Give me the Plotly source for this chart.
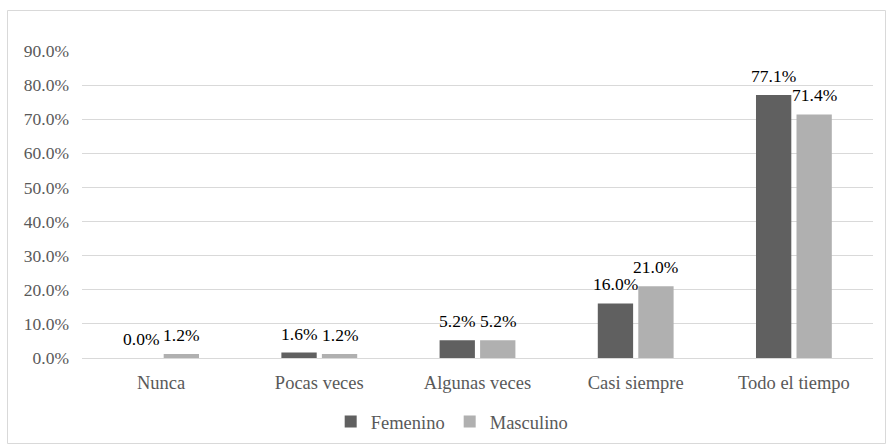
import plotly.graph_objects as go

categories = ["Nunca", "Pocas veces", "Algunas veces", "Casi siempre", "Todo el tiempo"]
femenino = [0.0, 1.6, 5.2, 16.0, 77.1]
masculino = [1.2, 1.2, 5.2, 21.0, 71.4]
tick_vals = [0, 10, 20, 30, 40, 50, 60, 70, 80, 90]
tick_text = [f"{v:.1f}%" for v in tick_vals]

FONT = "Liberation Serif"
GRAY = "#595959"
fig = go.Figure()
fig.add_trace(go.Bar(name="Femenino", x=categories, y=femenino,
                     marker=dict(color="#606060", line=dict(width=0))))
fig.add_trace(go.Bar(name="Masculino", x=categories, y=masculino,
                     marker=dict(color="#b0b0b0", line=dict(width=0))))

annotations = []
for series, shift in ((femenino, -20.25), (masculino, 20.25)):
    for c, v in zip(categories, series):
        annotations.append(dict(x=c, y=v, xref="x", yref="y", text=f"{v:.1f}%",
                                showarrow=False, yanchor="bottom", xanchor="center",
                                xshift=shift, yshift=7,
                                font=dict(family=FONT, size=17.5, color="#000000")))

fig.update_layout(
    template="none",
    width=886, height=444,
    margin=dict(l=82, r=13, t=51, b=86, autoexpand=False),
    paper_bgcolor="white", plot_bgcolor="white",
    barmode="group", bargap=0.488, bargroupgap=0.128,
    font=dict(family=FONT, size=18, color=GRAY),
    showlegend=True,
    legend=dict(orientation="h", x=0.468, xanchor="center", y=-0.208, yanchor="middle",
                bgcolor="rgba(0,0,0,0)",
                font=dict(family=FONT, size=18.5, color=GRAY),
                itemwidth=30, tracegroupgap=0),
    xaxis=dict(automargin=False, showgrid=False, showline=False, ticks="",
               ticklabelstandoff=11,
               tickfont=dict(family=FONT, size=18.5, color=GRAY)),
    yaxis=dict(automargin=False, range=[0, 90], tickvals=tick_vals, ticktext=tick_text,
               showgrid=True, gridcolor="#d9d9d9", gridwidth=1, zeroline=True,
               zerolinecolor="#d9d9d9", zerolinewidth=1, showline=False,
               ticks="", ticklabelstandoff=12,
               tickfont=dict(family=FONT, size=17.5, color=GRAY)),
    annotations=annotations,
    shapes=[dict(type="rect", xref="paper", yref="paper",
                 x0=(7.5 - 82) / 791, x1=(885.5 - 82) / 791,
                 y0=(358 - 443.5) / 307, y1=(358 - 10.5) / 307,
                 line=dict(color="#d9d9d9", width=1), fillcolor="rgba(0,0,0,0)", layer="below")],
)
fig.write_html("out.html",
               config={"displayModeBar": False},
               post_script="document.body.style.margin='0';document.documentElement.style.overflow='hidden';")
